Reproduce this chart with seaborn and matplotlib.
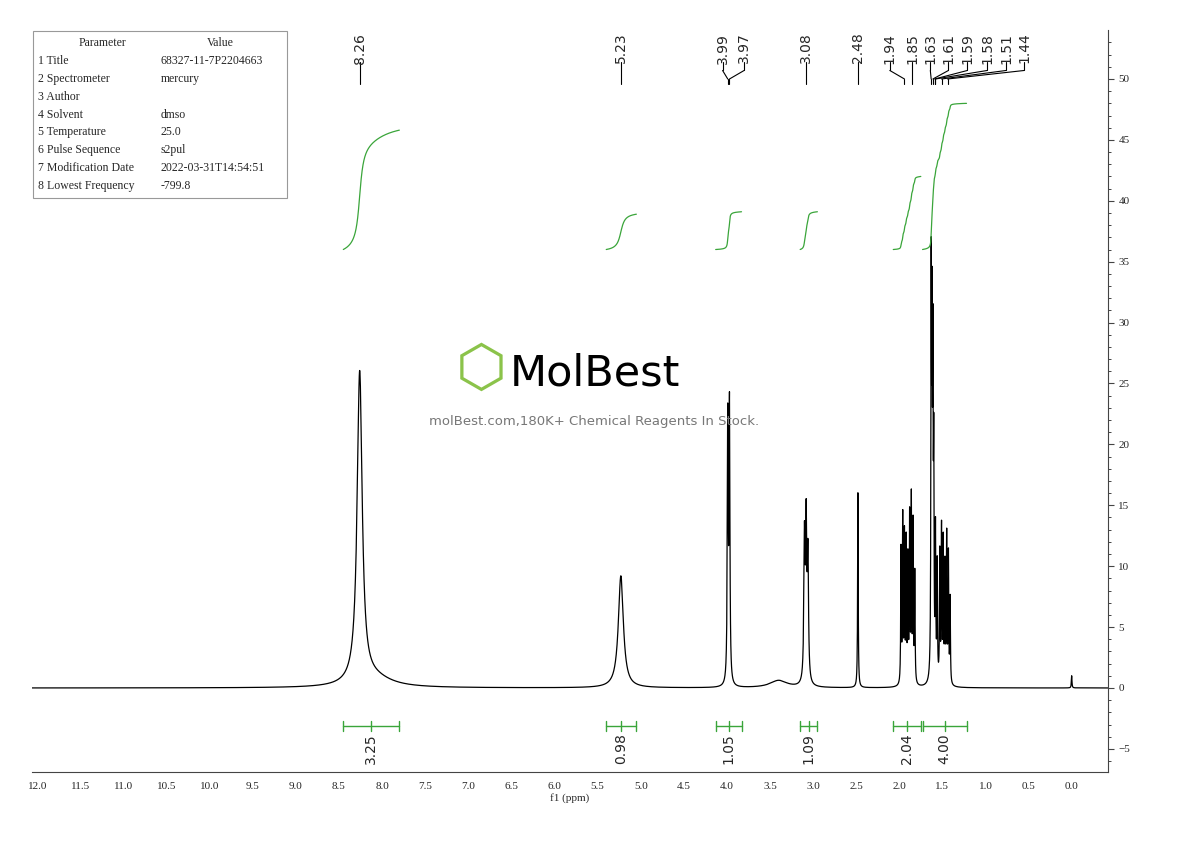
import numpy as np
import pandas as pd
import matplotlib
matplotlib.use('Agg')
import matplotlib.pyplot as plt
import seaborn as sns

# peak list (ppm, height, half width in ppm)
peak_ppm = [8.26, 8.10, 5.23, 3.99, 3.97, 3.40, 3.10, 3.08, 3.06, 2.48,
            1.98, 1.96, 1.94, 1.92, 1.90, 1.88, 1.86, 1.84, 1.82,
            1.63, 1.62, 1.61, 1.60, 1.58, 1.56, 1.53, 1.51, 1.49, 1.47, 1.45, 1.43, 1.41,
            0.00]
peak_height = [25.5, 0.8, 9.2, 21.5, 22.5, 0.6, 11.5, 12.5, 10.0, 16.0,
               11.0, 13.5, 12.0, 11.5, 10.0, 13.5, 15.0, 13.0, 9.0,
               32.0, 26.0, 24.0, 17.0, 12.0, 9.5, 10.5, 12.5, 11.5, 9.5, 12.0, 10.5, 7.0,
               1.0]
peak_width = [0.035, 0.25, 0.035, 0.006, 0.006, 0.12, 0.008, 0.008, 0.008, 0.004,
              0.004, 0.004, 0.004, 0.004, 0.004, 0.004, 0.004, 0.004, 0.004,
              0.004, 0.004, 0.004, 0.004, 0.004, 0.004, 0.004, 0.004, 0.004, 0.004, 0.004, 0.004, 0.004,
              0.004]

# peak labels at the top
label_ppm = [8.26, 5.23, 3.99, 3.97, 3.08, 2.48, 1.94, 1.85, 1.63, 1.61, 1.59, 1.58, 1.51, 1.44]
label_x = [8.26, 5.23, 4.05, 3.80, 3.08, 2.48, 2.11, 1.85, 1.64, 1.43, 1.21, 0.98, 0.76, 0.55]

# integrals: start, end, rise, value
int_start = [8.45, 5.40, 4.13, 3.15, 2.07, 1.73]
int_end = [7.80, 5.05, 3.83, 2.95, 1.75, 1.22]
int_rise = [9.8, 2.9, 3.1, 3.1, 6.0, 12.0]
int_value = ['3.25', '0.98', '1.05', '1.09', '2.04', '4.00']

params = ['Parameter', '1 Title', '2 Spectrometer', '3 Author', '4 Solvent', '5 Temperature',
          '6 Pulse Sequence', '7 Modification Date', '8 Lowest Frequency']
values = ['Value', '68327-11-7P2204663', 'mercury', '', 'dmso', '25.0', 's2pul',
          '2022-03-31T14:54:51', '-799.8']

x = np.linspace(-0.42, 12.06, 30000)
y = np.zeros_like(x)
for p, h, w in zip(peak_ppm, peak_height, peak_width):
    y += h * w**2 / ((x - p)**2 + w**2)
df = pd.DataFrame({'ppm': x, 'int': y})

sns.set_style('white')
plt.rcParams['font.family'] = ['Liberation Serif', 'DejaVu Serif']
fig = plt.figure(figsize=(11.9, 8.41), dpi=100)
ax = fig.add_axes([0.027, 0.082, 0.904, 0.882])
sns.lineplot(data=df, x='ppm', y='int', color='black', lw=0.9, ax=ax)
ax.set_xlim(12.06, -0.42)
ax.set_ylim(-6.9, 54)

# integral curves
for s, e, r in zip(int_start, int_end, int_rise):
    m = (x <= s) & (x >= e)
    xs = x[m][::-1]
    ys = y[m][::-1]
    c = np.cumsum(ys)
    c = c / c[-1] * r
    ax.plot(xs, 36 + c, color='#3aa53a', lw=0.9)
    ax.plot([s, e], [-3.1, -3.1], color='#3aa53a', lw=1)
    for xx in (s, e):
        ax.plot([xx, xx], [-2.7, -3.5], color='#3aa53a', lw=1)
    mid = (s + e) / 2
    ax.plot([mid, mid], [-2.7, -3.5], color='#3aa53a', lw=1)
for s, e, v in zip(int_start, int_end, int_value):
    ax.text((s + e) / 2, -3.7, v, rotation=90, ha='center', va='top', fontsize=10,
            family='DejaVu Sans')

# peak labels
for p, lx in zip(label_ppm, label_x):
    ax.text(lx, 53.8, '%.2f' % p, rotation=90, ha='center', va='top', fontsize=10,
            family='DejaVu Sans')
    ax.plot([lx, lx], [51.4, 50.7], color='black', lw=0.8)
    ax.plot([lx, p], [50.7, 50.0], color='black', lw=0.8)
    ax.plot([p, p], [50.0, 49.6], color='black', lw=0.8)

# watermark
fig.text(0.404, 0.561, '\u2b21', fontsize=42, color='#8bc34a', ha='center', va='center',
         family='DejaVu Sans')
fig.text(0.428, 0.556, 'MolBest', fontsize=31, color='black', ha='left', va='center',
         family='DejaVu Sans')
fig.text(0.499, 0.499, 'molBest.com,180K+ Chemical Reagents In Stock.', fontsize=9.5,
         color='#777777', ha='center', va='center', family='DejaVu Sans')

# parameter table
fig.patches.append(plt.Rectangle((0.028, 0.764), 0.213, 0.199, transform=fig.transFigure,
                                 fill=False, edgecolor='#999999', lw=0.8))
for i, (pa, va) in enumerate(zip(params, values)):
    yy = 0.949 - i * 0.0213
    if i == 0:
        fig.text(0.086, yy, pa, fontsize=8.5, ha='center', va='center')
        fig.text(0.185, yy, va, fontsize=8.5, ha='center', va='center')
    else:
        fig.text(0.032, yy, pa, fontsize=8.5, ha='left', va='center')
        fig.text(0.135, yy, va, fontsize=8.5, ha='left', va='center')

sns.despine(ax=ax, left=True, top=True, right=False)
ax.yaxis.tick_right()
ax.set_yticks(np.arange(-5, 51, 5))
ax.set_yticks(np.arange(-6, 54, 1), minor=True)
ax.set_xticks(np.arange(0, 12.01, 0.5))
ax.set_xticklabels(['%.1f' % v for v in np.arange(0, 12.01, 0.5)])
ax.tick_params(axis='both', labelsize=8, direction='out', length=4, color='#444444')
ax.tick_params(axis='y', which='minor', length=2, right=True)
ax.tick_params(axis='y', right=True, left=False)
ax.set_xlabel('f1 (ppm)', fontsize=8, labelpad=1)
ax.set_ylabel('')
for sp in ax.spines.values():
    sp.set_color('#444444')
    sp.set_linewidth(0.8)
fig.savefig('out.png', dpi=100)
